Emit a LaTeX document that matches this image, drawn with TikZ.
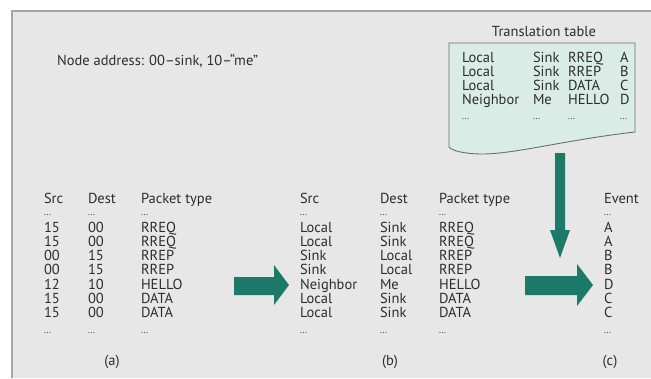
\documentclass[tikz,border=0pt]{standalone}
\usepackage{fontspec}
\setmainfont{PT Sans}
\definecolor{panel}{RGB}{231,231,231}
\definecolor{panelline}{RGB}{165,165,165}
\definecolor{ink}{RGB}{45,45,45}
\definecolor{arrowteal}{RGB}{30,122,104}
\definecolor{tbfill}{RGB}{218,236,230}
\definecolor{tbline}{RGB}{105,110,108}
\begin{document}
\begin{tikzpicture}[x=1bp,y=-1bp,
  txt/.style={anchor=base west, inner sep=0pt, outer sep=0pt, text=ink, font=\fontsize{14.5bp}{15bp}\selectfont},
  ctxt/.style={txt, anchor=base},
  dots/.style={txt, font=\fontsize{9bp}{10bp}\selectfont},
  bigarrow/.style={fill=arrowteal, draw=none}]
\useasboundingbox (0,0) rectangle (651,378);
\fill[white] (0,0) rectangle (651,378);
\fill[panel] (12,11) rectangle (651,378);
\draw[panelline, line width=1.5bp] (12,378) -- (12,11) -- (651,11);

% note
\node[txt] (note) at (57,65) {Node address: 00--sink, 10--``me''};

% translation table
\node[ctxt] (ttitle) at (544,36) {Translation table};
\draw[tbline, fill=tbfill, line width=0.9bp]
  (449,43) -- (635,43) -- (635,132)
  .. controls (565,140) and (515,154) .. (482,154)
  .. controls (466,154) and (452,151) .. (449,147) -- cycle;
\foreach \a/\b/\c/\d [count=\i] in {Local/Sink/RREQ/A, Local/Sink/RREP/B, Local/Sink/DATA/C, Neighbor/Me/HELLO/D}{
  \node[txt] (t\i a) at (462,{57+14*(\i-1)+5}) {\a};
  \node[txt] (t\i b) at (533,{57+14*(\i-1)+5}) {\b};
  \node[txt] (t\i c) at (568,{57+14*(\i-1)+5}) {\c};
  \node[txt] (t\i d) at (620,{57+14*(\i-1)+5}) {\d};
}
\node[dots] (tda) at (462,119) {...};
\node[dots] (tdb) at (533,119) {...};
\node[dots] (tdc) at (568,119) {...};
\node[dots] (tdd) at (620,119) {...};

% table (a)
\node[txt] (ha1) at (44,203) {Src};
\node[txt] (ha2) at (88,203) {Dest};
\node[txt] (ha3) at (141,203) {Packet type};
\node[dots] (da1) at (44,215) {...};
\node[dots] (da2) at (88,215) {...};
\node[dots] (da3) at (141,215) {...};
\foreach \s/\d/\p [count=\i] in {15/00/RREQ, 15/00/RREQ, 00/15/RREP, 00/15/RREP, 12/10/HELLO, 15/00/DATA, 15/00/DATA}{
  \node[txt] (as\i) at (44,{227+14.33*(\i-1)+5}) {\s};
  \node[txt] (ad\i) at (88,{227+14.33*(\i-1)+5}) {\d};
  \node[txt] (ap\i) at (141,{227+14.33*(\i-1)+5}) {\p};
}
\node[dots] (ea1) at (44,333) {...};
\node[dots] (ea2) at (88,333) {...};
\node[dots] (ea3) at (141,333) {...};
\node[ctxt] (la) at (112,365) {(a)};

% table (b)
\node[txt] (hb1) at (300,203) {Src};
\node[txt] (hb2) at (380,203) {Dest};
\node[txt] (hb3) at (439,203) {Packet type};
\node[dots] (db1) at (300,215) {...};
\node[dots] (db2) at (380,215) {...};
\node[dots] (db3) at (439,215) {...};
\foreach \s/\d/\p [count=\i] in {Local/Sink/RREQ, Local/Sink/RREQ, Sink/Local/RREP, Sink/Local/RREP, Neighbor/Me/HELLO, Local/Sink/DATA, Local/Sink/DATA}{
  \node[txt] (bs\i) at (300,{227+14.33*(\i-1)+5}) {\s};
  \node[txt] (bd\i) at (380,{227+14.33*(\i-1)+5}) {\d};
  \node[txt] (bp\i) at (439,{227+14.33*(\i-1)+5}) {\p};
}
\node[dots] (eb1) at (300,333) {...};
\node[dots] (eb2) at (380,333) {...};
\node[dots] (eb3) at (439,333) {...};
\node[ctxt] (lb) at (390,365) {(b)};

% column (c)
\node[txt] (hc) at (604,203) {Event};
\node[dots] (dc) at (604,215) {...};
\foreach \e [count=\i] in {A,A,B,B,D,C,C}{
  \node[txt] (ce\i) at (604,{227+14.33*(\i-1)+5}) {\e};
}
\node[dots] (ec) at (604,333) {...};
\node[ctxt] (lc) at (610,365) {(c)};

% arrows
\fill[bigarrow] (234,277) -- (274,277) -- (274,265) -- (289,285) -- (274,305) -- (274,295) -- (234,295) -- cycle;
\fill[bigarrow] (525,276) -- (577,276) -- (577,264) -- (593,285) -- (577,306) -- (577,295) -- (525,295) -- cycle;
\fill[bigarrow] (555,153) -- (565,153) -- (565,230) -- (570,230) -- (560,258) -- (550,230) -- (555,230) -- cycle;
\end{tikzpicture}
\end{document}
